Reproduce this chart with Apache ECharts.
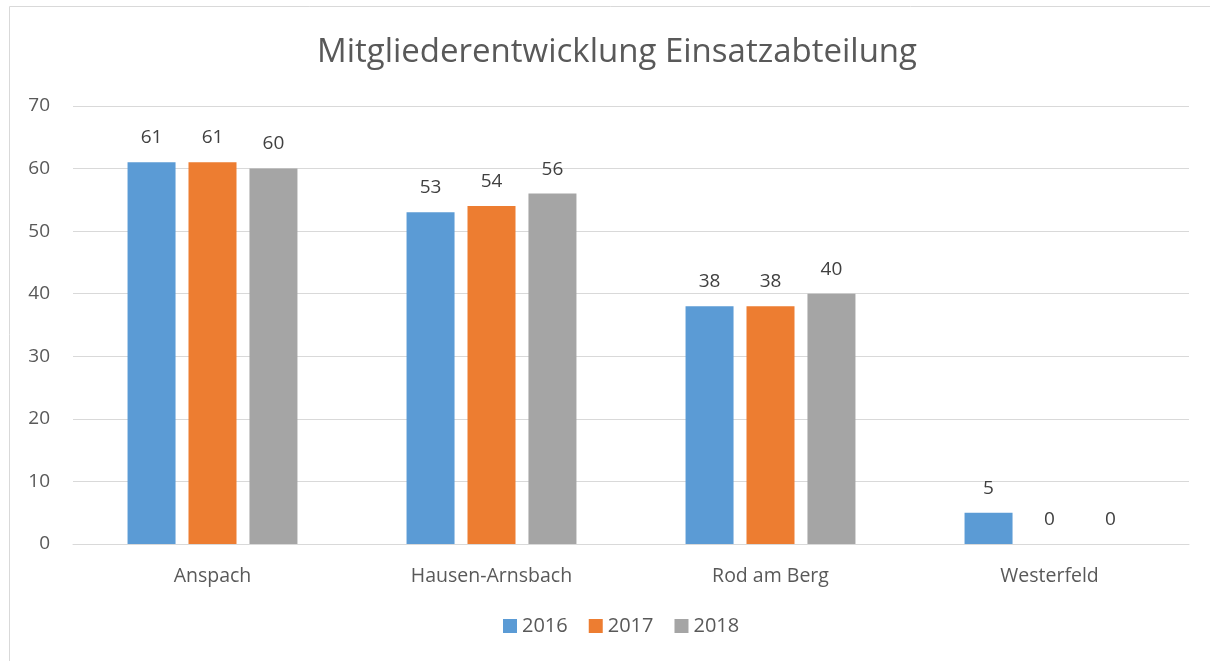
<!DOCTYPE html>
<html>
<head>
<meta charset="utf-8">
<script src="https://cdn.jsdelivr.net/npm/echarts@6/dist/echarts.min.js"></script>
<style>
  html, body { margin: 0; padding: 0; background: #fff; }
  #main { width: 1210px; height: 661px; }
</style>
</head>
<body>
<div id="main"></div>
<script>
var categories = ['Anspach', 'Hausen-Arnsbach', 'Rod am Berg', 'Westerfeld'];
var years = ['2016', '2017', '2018'];
var values2016 = [61, 53, 38, 5];
var values2017 = [61, 54, 38, 0];
var values2018 = [60, 56, 40, 0];
var colors = ['#5B9BD5', '#ED7D31', '#A5A5A5'];

var font = '"Open Sans", "Noto Sans", sans-serif';
var chart = echarts.init(document.getElementById('main'));

function barSeries(name, data, color) {
    return {
        name: name,
        type: 'bar',
        data: data,
        barWidth: 48,
        barGap: '27%',
        itemStyle: { color: color },
        label: {
            show: true,
            position: 'top',
            distance: 15,
            color: '#404040',
            fontSize: 19,
            fontFamily: font
        }
    };
}

chart.setOption({
    animation: false,
    textStyle: { fontFamily: font },
    title: {
        text: 'Mitgliederentwicklung Einsatzabteilung',
        left: 612,
        textAlign: 'center',
        top: 31,
        textStyle: { color: '#595959', fontSize: 33, fontWeight: 'normal', fontFamily: font }
    },
    // Rahmen um das Diagramm
    graphic: [{
        type: 'rect',
        shape: { x: 9.5, y: 6.5, width: 1230, height: 700 },
        style: { fill: 'none', stroke: '#d9d9d9', lineWidth: 1 },
        silent: true
    }],
    legend: {
        data: years,
        bottom: 20,
        left: 498,
        itemWidth: 14,
        itemHeight: 14,
        itemGap: 21,
        icon: 'rect',
        textStyle: { color: '#595959', fontSize: 20, fontFamily: font }
    },
    grid: { left: 73, right: 21, top: 106, bottom: 117 },
    xAxis: {
        type: 'category',
        data: categories,
        axisLine: { lineStyle: { color: '#d9d9d9', width: 1 } },
        axisTick: { show: false },
        axisLabel: { color: '#595959', fontSize: 19.5, margin: 22, fontFamily: font }
    },
    yAxis: {
        type: 'value',
        min: 0,
        max: 70,
        interval: 10,
        axisLine: { show: false },
        axisTick: { show: false },
        splitLine: { lineStyle: { color: '#d9d9d9', width: 1 } },
        axisLabel: { color: '#595959', fontSize: 19, margin: 23, fontFamily: font }
    },
    series: [
        barSeries(years[0], values2016, colors[0]),
        barSeries(years[1], values2017, colors[1]),
        barSeries(years[2], values2018, colors[2])
    ]
});
</script>
</body>
</html>
